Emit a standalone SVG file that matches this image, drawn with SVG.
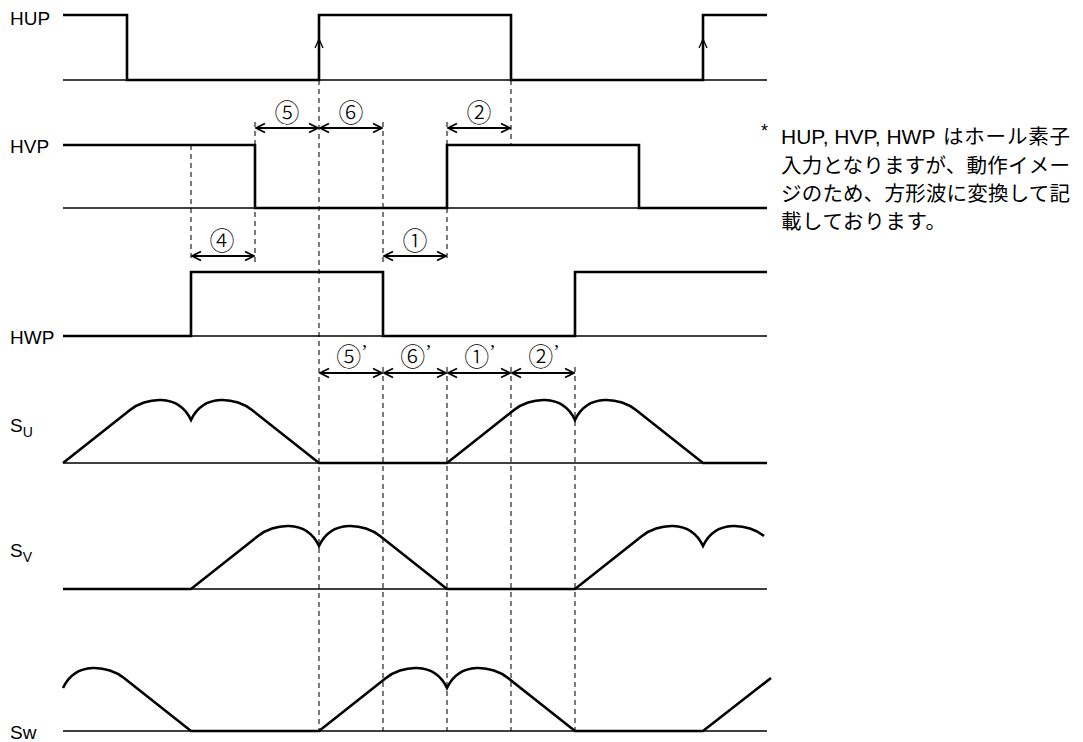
<svg xmlns="http://www.w3.org/2000/svg" width="1083" height="742" viewBox="0 0 1083 742">
<style>
.lbl{font-family:"Liberation Sans",Arial,sans-serif;font-size:19px;fill:#000}
.sub{font-family:"Liberation Sans",Arial,sans-serif;font-size:14px;fill:#000}
.num{font-family:"Noto Sans CJK JP",sans-serif;font-size:25px;font-weight:300;fill:#000;text-anchor:middle}
.pr{font-family:"Liberation Serif",serif;font-size:19px}
.note{font-family:"Liberation Sans","Noto Sans CJK JP",sans-serif;font-size:20.5px;fill:#000}
.lat{font-family:"Liberation Sans",Arial,sans-serif;font-size:21px;fill:#000}
.base{stroke:#000;stroke-width:1.3;fill:none}
.sig{stroke:#000;stroke-width:2.6;fill:none;stroke-linejoin:miter}
.dash{stroke:#333;stroke-width:1.3;stroke-dasharray:5,4;fill:none}
.dim{stroke:#000;stroke-width:2;fill:none;marker-start:url(#ah);marker-end:url(#ah)}
</style>
<defs>
<marker id="ah" viewBox="-11 -6 12 12" refX="0" refY="0" markerWidth="12" markerHeight="12" markerUnits="userSpaceOnUse" orient="auto-start-reverse">
<path d="M-9,-4.5 L0,0 L-9,4.5" fill="none" stroke="#000" stroke-width="1.8"/>
</marker>
</defs>
<rect width="1083" height="742" fill="#fff"/>

<g id="connectors">
<g id="dashes">
<line class="dash" x1="191" y1="145" x2="191" y2="262"/>
<line class="dash" x1="255" y1="122" x2="255" y2="262"/>
<line class="dash" x1="319" y1="80" x2="319" y2="731"/>
<line class="dash" x1="383" y1="122" x2="383" y2="262"/>
<line class="dash" x1="383" y1="367" x2="383" y2="731"/>
<line class="dash" x1="447" y1="122" x2="447" y2="145"/>
<line class="dash" x1="447" y1="208" x2="447" y2="262"/>
<line class="dash" x1="447" y1="367" x2="447" y2="731"/>
<line class="dash" x1="511" y1="80" x2="511" y2="145"/>
<line class="dash" x1="511" y1="367" x2="511" y2="731"/>
<line class="dash" x1="575" y1="367" x2="575" y2="731"/>
</g>
<g id="dims">
<line class="dim" x1="256" y1="128" x2="318" y2="128"/>
<line class="dim" x1="320" y1="128" x2="382" y2="128"/>
<line class="dim" x1="448" y1="128" x2="510" y2="128"/>
<line class="dim" x1="192" y1="256" x2="254" y2="256"/>
<line class="dim" x1="384" y1="256" x2="446" y2="256"/>
<line class="dim" x1="320" y1="373" x2="382" y2="373"/>
<line class="dim" x1="384" y1="373" x2="446" y2="373"/>
<line class="dim" x1="448" y1="373" x2="510" y2="373"/>
<line class="dim" x1="512" y1="373" x2="574" y2="373"/>
</g>
</g>

<g id="HUP">
<text class="lbl" x="10" y="25">HUP</text>
<line class="base" x1="63" y1="80" x2="767" y2="80"/>
<path class="sig" d="M63,15 H127 V80 H319 V15 H511 V80 H703 V15 H767"/>
<path d="M315,48 L319,39 L323,48" fill="none" stroke="#000" stroke-width="1.3"/>
<path d="M699,48 L703,39 L707,48" fill="none" stroke="#000" stroke-width="1.3"/>
</g>

<g id="HVP">
<text class="lbl" x="10" y="153">HVP</text>
<line class="base" x1="63" y1="208" x2="767" y2="208"/>
<path class="sig" d="M63,145 H255 V208 H447 V145 H639 V208 H767"/>
</g>

<g id="HWP">
<text class="lbl" x="10" y="344">HWP</text>
<line class="base" x1="63" y1="336" x2="767" y2="336"/>
<path class="sig" d="M63,336 H191 V272 H383 V336 H575 V272 H767"/>
</g>

<g id="Su">
<text class="lbl" x="10" y="432">S<tspan class="sub" dy="5">U</tspan></text>
<line class="base" x1="63" y1="463" x2="767" y2="463"/>
<path class="sig" d="M63,463 L130,410 C145,398 178,392 191,420 C204,392 237,398 252,410 L319,463 L447,463 L514,410 C529,398 562,392 575,420 C588,392 621,398 636,410 L703,463 L767,463"/>
</g>

<g id="Sv">
<text class="lbl" x="10" y="557">S<tspan class="sub" dy="5">V</tspan></text>
<line class="base" x1="63" y1="589" x2="767" y2="589"/>
<path class="sig" d="M63,589 L191,589 L258,536 C273,524 306,518 319,546 C332,518 365,524 380,536 L447,589 L575,589 L642,536 C657,524 690,518 703,546 C716,518 749,524 764,536"/>
</g>

<g id="Sw">
<text class="lbl" x="10" y="739">Sw</text>
<line class="base" x1="63" y1="731" x2="767" y2="731"/>
<path class="sig" d="M63,688 C76,660 109,666 124,678 L191,731 L319,731 L386,678 C401,666 434,660 447,688 C460,660 493,666 508,678 L575,731 L703,731 L771,678"/>
</g>

<g id="labels">
<text class="num" x="287" y="122">⑤</text>
<text class="num" x="351" y="122">⑥</text>
<text class="num" x="479" y="122">②</text>
<text class="num" x="222" y="250" font-weight="bold">④</text>
<text class="num" x="415" y="250">①</text>
<text class="num" x="352" y="366">⑤<tspan class="pr" dy="-8">’</tspan></text>
<text class="num" x="416" y="366">⑥<tspan class="pr" dy="-8">’</tspan></text>
<text class="num" x="480" y="366">①<tspan class="pr" dy="-8">’</tspan></text>
<text class="num" x="544" y="366">②<tspan class="pr" dy="-8">’</tspan></text>
</g>

<g id="note">
<text class="note" x="761" y="137" style="font-size:18px">*</text>
<text class="lat" x="781" y="144">HUP, HVP, HWP</text>
<text class="note" x="943" y="144" textLength="127" lengthAdjust="spacing">はホール素子</text>
<text class="note" x="781" y="173" textLength="289" lengthAdjust="spacing">入力となりますが、動作イメー</text>
<text class="note" x="781" y="201" textLength="289" lengthAdjust="spacing">ジのため、方形波に変換して記</text>
<text class="note" x="781" y="229" textLength="165" lengthAdjust="spacing">載しております。</text>
</g>
</svg>
